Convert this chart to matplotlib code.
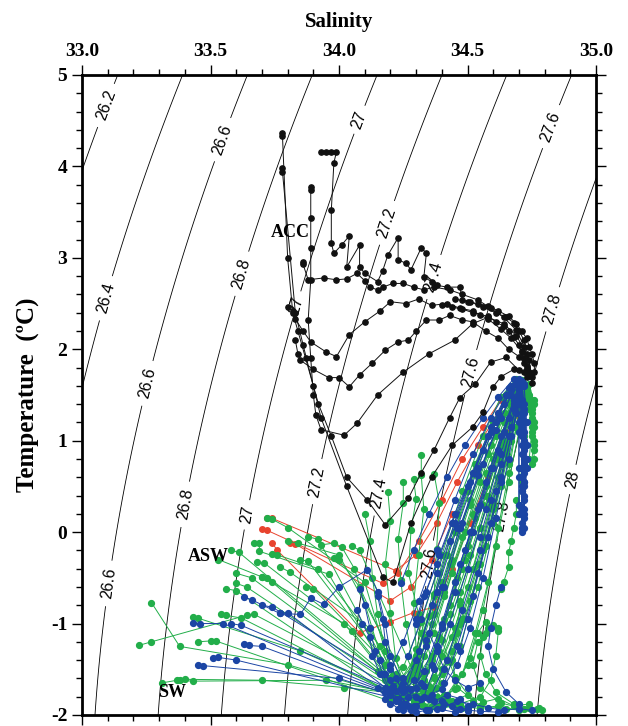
import numpy as np
import matplotlib
matplotlib.use("Agg")
import matplotlib.pyplot as plt
from matplotlib.ticker import MultipleLocator, FormatStrFormatter

plt.rcParams["axes.unicode_minus"] = False

# ---- data (salinity, temperature) ----
black_profiles = [
    [(33.78, 4.37), (33.78, 4.33), (33.80, 3.00), (33.82, 2.40), (33.84, 2.20), (33.87, 1.90), (33.92, 1.40),
     (33.97, 1.05), (34.03, 0.60), (34.11, 0.35), (34.18, 0.08), (34.27, 0.37), (34.32, 0.65), (34.37, 0.90),
     (34.43, 1.25), (34.47, 1.47), (34.53, 1.62), (34.59, 1.86), (34.65, 1.91), (34.70, 1.77), (34.73, 1.70)],
    [(33.78, 3.98), (33.78, 3.94), (33.83, 2.40), (33.86, 2.05), (33.90, 1.60), (33.93, 1.25), (34.03, 0.50),
     (34.17, -0.49), (34.21, -0.55), (34.28, 0.10), (34.36, 0.60), (34.44, 0.95), (34.52, 1.15), (34.56, 1.31),
     (34.60, 1.59), (34.63, 1.70), (34.68, 1.78), (34.72, 1.75)],
    [(33.93, 4.16), (33.95, 4.16), (33.97, 4.16), (33.99, 4.16), (33.98, 4.04), (33.97, 3.52), (33.97, 3.16),
     (33.98, 3.05), (34.01, 3.14), (34.04, 3.24), (34.03, 2.90), (34.08, 3.14), (34.08, 2.90), (34.10, 2.83),
     (34.15, 2.74), (34.17, 2.86), (34.19, 3.03), (34.23, 3.22), (34.23, 2.98), (34.26, 2.94), (34.28, 2.87),
     (34.32, 3.11), (34.34, 3.05), (34.33, 2.79), (34.36, 2.74), (34.38, 2.70), (34.42, 2.68), (34.47, 2.68),
     (34.48, 2.54), (34.51, 2.52), (34.56, 2.46), (34.61, 2.40), (34.65, 2.35), (34.68, 2.29), (34.70, 2.20),
     (34.72, 2.10), (34.74, 1.88), (34.75, 1.63)],
    [(33.89, 3.78), (33.89, 3.74), (33.89, 3.44), (33.89, 3.11), (33.89, 2.76), (33.88, 2.32), (33.89, 1.90),
     (33.90, 1.50), (33.91, 1.28), (33.93, 1.12), (34.02, 1.06), (34.07, 1.19), (34.15, 1.50), (34.25, 1.75),
     (34.35, 1.95), (34.45, 2.10), (34.52, 2.28), (34.58, 2.35), (34.64, 2.28), (34.69, 2.15), (34.73, 1.95),
     (34.75, 1.70)],
    [(33.86, 2.95), (33.86, 2.93), (33.88, 2.76), (33.94, 2.78), (33.99, 2.76), (34.03, 2.77), (34.07, 2.83),
     (34.10, 2.75), (34.12, 2.68), (34.15, 2.65), (34.17, 2.68), (34.21, 2.72), (34.25, 2.72), (34.29, 2.68),
     (34.33, 2.65), (34.37, 2.68), (34.43, 2.65), (34.48, 2.60), (34.54, 2.54), (34.59, 2.45), (34.64, 2.35),
     (34.69, 2.21), (34.72, 2.03), (34.73, 1.77)],
    [(33.80, 2.46), (33.82, 2.42), (33.83, 2.33), (33.86, 2.20), (33.89, 2.08), (33.95, 1.97), (33.99, 1.92),
     (34.04, 2.16), (34.10, 2.30), (34.16, 2.42), (34.20, 2.52), (34.26, 2.50), (34.31, 2.55), (34.36, 2.48),
     (34.42, 2.50), (34.47, 2.45), (34.52, 2.42), (34.58, 2.33), (34.63, 2.22), (34.67, 2.12), (34.71, 1.98),
     (34.73, 1.80)],
    [(33.83, 2.10), (33.84, 1.95), (33.85, 1.88), (33.90, 1.78), (33.96, 1.69), (34.00, 1.69), (34.04, 1.59),
     (34.08, 1.72), (34.13, 1.85), (34.18, 1.99), (34.23, 2.08), (34.27, 2.10), (34.30, 2.20), (34.34, 2.32),
     (34.39, 2.32), (34.43, 2.37), (34.48, 2.32), (34.52, 2.30), (34.57, 2.20), (34.62, 2.12), (34.66, 2.00),
     (34.70, 1.92), (34.72, 1.85)],
    [(34.40, 2.48), (34.44, 2.46), (34.48, 2.44), (34.52, 2.40), (34.55, 2.38), (34.58, 2.36), (34.61, 2.30),
     (34.64, 2.25), (34.66, 2.20), (34.68, 2.13), (34.70, 2.05), (34.71, 1.97), (34.72, 1.90), (34.73, 1.82),
     (34.74, 1.75)],
    [(34.45, 2.55), (34.50, 2.52), (34.54, 2.50), (34.58, 2.47), (34.62, 2.42), (34.66, 2.36), (34.69, 2.28),
     (34.71, 2.20), (34.73, 2.12), (34.74, 2.03), (34.75, 1.95), (34.76, 1.85), (34.76, 1.75)],
]

red_profiles = [
    [(33.70, 0.03), (33.72, 0.02), (34.17, -0.56), (34.23, -0.45), (34.31, -0.10), (34.40, 0.35), (34.48, 0.80),
     (34.56, 1.15), (34.63, 1.45), (34.69, 1.62)],
    [(33.72, 0.15), (33.74, 0.15), (34.22, -0.42), (34.30, -0.25), (34.38, 0.10), (34.46, 0.55), (34.54, 0.95),
     (34.62, 1.30), (34.70, 1.26)],
    [(33.74, -0.12), (33.76, -0.20), (34.08, -1.10), (34.20, -0.98), (34.29, -0.88), (34.37, -0.82),
     (34.44, -0.40), (34.51, 0.10), (34.58, 0.60), (34.65, 1.10)],
    [(33.81, -0.12), (33.83, -0.13), (34.20, -0.75), (34.28, -0.60), (34.36, -0.30), (34.44, 0.20)],
]

green_profiles = [
    [(33.31, -1.65), (33.37, -1.62), (33.40, -1.61), (33.70, -1.62), (34.02, -1.70), (34.21, -1.76), (34.27, -1.60),
     (34.33, -1.15), (34.40, -0.55), (34.47, 0.05), (34.54, 0.60), (34.61, 1.10), (34.67, 1.50), (34.70, 1.62),
     (34.74, 1.45), (34.75, 1.10), (34.74, 0.80)],
    [(33.22, -1.24), (33.27, -1.20), (33.64, -0.91), (33.67, -0.90), (34.19, -1.66), (34.25, -1.72), (34.31, -1.45),
     (34.37, -0.90), (34.44, -0.30), (34.51, 0.30), (34.58, 0.85), (34.64, 1.30), (34.69, 1.58), (34.71, 1.20),
     (34.71, 0.70), (34.70, 0.30)],
    [(33.27, -0.77), (33.38, -1.25), (33.80, -1.45), (34.23, -1.80), (34.30, -1.84), (34.37, -1.60), (34.44, -1.15),
     (34.50, -0.60), (34.56, -0.05), (34.62, 0.60), (34.67, 1.20), (34.70, 1.60), (34.74, 1.35), (34.76, 0.95)],
    [(33.43, -0.93), (33.45, -0.94), (33.85, -1.30), (34.25, -1.80), (34.33, -1.76), (34.40, -1.35), (34.47, -0.75),
     (34.55, 0.05), (34.62, 0.80), (34.68, 1.40), (34.72, 1.62), (34.75, 1.25)],
    [(33.53, -0.30), (33.70, -0.49), (33.72, -0.50), (34.24, -1.74), (34.32, -1.86), (34.40, -1.55), (34.48, -0.95),
     (34.56, -0.20), (34.63, 0.55), (34.68, 1.15), (34.71, 1.50), (34.72, 1.05), (34.71, 0.55)],
    [(33.45, -1.20), (33.50, -1.19), (33.52, -1.19), (34.20, -1.85), (34.38, -1.92), (34.47, -1.88), (34.55, -1.80),
     (34.59, -1.62), (34.61, -1.35), (34.62, -1.08)],
    [(33.54, -0.90), (33.56, -0.91), (33.62, -0.94), (34.22, -1.79), (34.26, -1.62), (34.32, -1.10), (34.39, -0.45),
     (34.46, 0.20), (34.53, 0.75), (34.60, 1.20), (34.66, 1.52), (34.70, 1.66), (34.74, 1.50), (34.76, 1.15),
     (34.75, 0.75)],
    [(33.67, -0.12), (33.69, -0.12), (33.69, -0.21), (33.96, -0.46), (34.20, -1.60), (34.28, -1.78), (34.34, -1.52),
     (34.41, -0.95), (34.49, -0.30), (34.57, 0.40), (34.64, 1.00), (34.69, 1.48)],
    [(33.68, -0.33), (33.71, -0.34), (34.05, -1.08), (34.23, -1.70), (34.30, -1.50), (34.36, -1.00), (34.43, -0.35),
     (34.51, 0.35), (34.59, 0.95), (34.66, 1.42), (34.71, 1.63), (34.75, 1.35), (34.76, 0.90)],
    [(33.70, -0.49), (33.74, -0.55), (34.02, -1.00), (34.26, -1.83), (34.36, -1.90), (34.45, -1.72), (34.51, -1.38),
     (34.54, -1.10), (34.57, -0.98)],
    [(33.72, 0.15), (33.74, 0.14), (33.80, 0.05), (34.10, -0.55), (34.22, -1.68), (34.29, -1.45), (34.35, -0.92),
     (34.42, -0.25), (34.50, 0.45), (34.58, 1.05), (34.65, 1.50), (34.71, 1.45), (34.72, 1.00)],
    [(33.74, -0.24), (33.76, -0.25), (33.92, -0.40), (34.16, -1.25), (34.21, -1.56), (34.27, -1.80), (34.33, -1.62),
     (34.39, -1.15), (34.46, -0.50), (34.53, 0.15), (34.61, 0.85), (34.67, 1.38)],
    [(33.77, -0.38), (33.81, -0.44), (34.12, -1.05), (34.23, -1.66), (34.30, -1.35), (34.37, -0.70), (34.45, 0.00),
     (34.53, 0.65), (34.61, 1.20), (34.67, 1.60), (34.73, 1.52), (34.75, 1.15), (34.76, 0.80)],
    [(33.93, -0.14), (33.98, -0.12), (34.01, -0.16), (34.06, -0.40), (34.20, -1.72), (34.29, -1.86), (34.37, -1.58),
     (34.45, -1.05), (34.52, -0.40), (34.59, 0.30), (34.65, 0.95), (34.70, 1.55)],
    [(33.60, -0.56), (33.64, -0.60), (34.18, -1.62), (34.25, -1.48), (34.32, -0.98), (34.40, -0.25), (34.48, 0.45),
     (34.56, 1.05), (34.63, 1.48), (34.69, 1.68)],
    [(33.38, -1.62), (33.43, -1.63), (33.95, -1.62), (34.28, -1.80), (34.36, -1.72), (34.43, -1.42), (34.49, -0.95),
     (34.55, -0.35), (34.60, 0.25), (34.65, 0.85), (34.69, 1.35), (34.72, 1.60), (34.75, 1.40), (34.75, 1.05)],
    [(34.32, 0.84), (34.32, 0.62), (34.33, 0.25), (34.31, -0.25), (34.29, -0.78), (34.30, -1.28), (34.35, -1.68),
     (34.42, -1.85)],
    [(34.25, 0.55), (34.25, 0.32), (34.23, -0.08), (34.24, -0.52), (34.26, -1.00), (34.29, -1.48), (34.33, -1.76)],
    [(34.19, 0.44), (34.20, 0.12), (34.18, -0.35), (34.20, -0.88), (34.22, -1.38), (34.26, -1.74)],
    [(34.37, 0.64), (34.39, 0.32), (34.38, -0.18), (34.37, -0.68), (34.40, -1.18), (34.45, -1.58), (34.52, -1.85)],
    [(34.29, 0.58), (34.30, 0.36), (34.28, 0.02), (34.27, -0.45), (34.31, -0.90), (34.36, -1.40), (34.41, -1.78)],
    [(34.62, -1.05), (34.60, -1.02), (34.58, -1.05), (34.56, -1.15), (34.55, -1.35), (34.57, -1.55), (34.61, -1.75),
     (34.68, -1.88), (34.74, -1.92), (34.79, -1.95)],
    [(34.57, -1.10), (34.54, -1.20), (34.52, -1.45), (34.55, -1.70), (34.63, -1.87), (34.72, -1.93), (34.77, -1.94)],
    [(34.69, 0.35), (34.69, 0.20), (34.68, 0.05), (34.67, -0.10), (34.66, -0.22), (34.66, -0.38), (34.64, -0.55),
     (34.63, -0.62)],
    [(33.98, -0.28), (34.00, -0.30), (34.08, -0.60), (34.24, -1.60), (34.31, -1.70), (34.39, -1.30), (34.47, -0.65),
     (34.55, 0.05), (34.63, 0.75), (34.69, 1.30), (34.72, 1.62), (34.76, 1.45), (34.76, 1.20)],
    [(33.60, -0.45), (33.66, -0.50), (34.15, -1.52), (34.33, -1.90), (34.42, -1.78), (34.50, -1.45), (34.56, -0.85),
     (34.61, -0.15), (34.66, 0.55), (34.70, 1.10), (34.72, 1.45)],
    [(34.45, -0.55), (34.47, -0.80), (34.46, -1.10), (34.44, -1.40), (34.46, -1.70), (34.55, -1.90), (34.65, -1.93)],
    [(34.10, 0.20), (34.12, -0.10), (34.13, -0.50), (34.15, -0.90), (34.18, -1.30), (34.22, -1.65)],
    [(33.80, -0.10), (33.84, -0.12), (34.00, -0.25), (34.30, -1.82), (34.40, -1.65), (34.47, -1.25), (34.54, -0.60),
     (34.60, 0.10), (34.66, 0.75), (34.70, 1.30), (34.73, 1.55)],
    [(34.35, -1.95), (34.45, -1.90), (34.55, -1.93), (34.62, -1.90), (34.70, -1.95), (34.78, -1.92)],
    [(33.56, -0.62), (33.60, -0.64), (34.21, -1.80), (34.27, -1.70), (34.33, -1.35), (34.41, -0.70), (34.49, 0.00),
     (34.57, 0.65), (34.64, 1.20), (34.69, 1.55)],
    [(33.85, -0.30), (33.88, -0.32), (34.27, -1.75), (34.33, -1.55), (34.40, -1.05), (34.48, -0.40), (34.56, 0.30),
     (34.63, 0.95), (34.68, 1.40), (34.71, 1.64)],
    [(34.05, -0.15), (34.08, -0.20), (34.30, -1.60), (34.36, -1.35), (34.43, -0.80), (34.50, -0.15), (34.57, 0.50),
     (34.64, 1.10), (34.69, 1.50)],
    [(34.35, -1.75), (34.40, -1.50), (34.47, -1.00), (34.54, -0.35), (34.60, 0.30), (34.65, 0.90), (34.69, 1.35),
     (34.73, 1.60), (34.75, 1.30), (34.76, 1.00)],
    [(34.42, -1.80), (34.48, -1.55), (34.53, -1.10), (34.58, -0.55), (34.62, 0.05), (34.66, 0.65), (34.69, 1.15),
     (34.72, 1.50)],
    [(34.28, -1.55), (34.34, -1.20), (34.41, -0.65), (34.48, -0.05), (34.55, 0.55), (34.61, 1.05), (34.67, 1.45),
     (34.71, 1.66)],
    [(33.88, -0.05), (33.92, -0.08), (34.18, -1.45), (34.24, -1.78), (34.31, -1.55), (34.37, -1.10), (34.44, -0.45),
     (34.52, 0.20), (34.60, 0.80), (34.66, 1.30), (34.70, 1.60)],
    [(34.32, -1.88), (34.38, -1.70), (34.44, -1.30), (34.51, -0.75), (34.57, -0.15), (34.63, 0.50), (34.67, 1.00),
     (34.70, 1.40), (34.74, 1.62), (34.76, 1.40)],
    [(34.28, -1.60), (34.32, -1.72), (34.38, -1.80), (34.44, -1.85), (34.50, -1.78), (34.56, -1.86), (34.62, -1.82),
     (34.68, -1.90), (34.74, -1.88)],
    [(33.58, -0.20), (33.61, -0.22), (34.24, -1.70), (34.30, -1.78), (34.36, -1.45), (34.43, -0.90), (34.51, -0.25),
     (34.58, 0.40), (34.65, 1.00), (34.70, 1.45)],
    [(33.87, -0.60), (33.90, -0.62), (34.22, -1.55), (34.30, -1.88), (34.39, -1.90), (34.48, -1.92)],
]

blue_profiles = [
    [(33.45, -1.45), (33.47, -1.46), (34.00, -1.60), (34.20, -1.78), (34.26, -1.72), (34.31, -1.30), (34.38, -0.65),
     (34.46, 0.05), (34.54, 0.70), (34.61, 1.20), (34.67, 1.55), (34.70, 1.66), (34.71, 1.30), (34.71, 0.95),
     (34.71, 0.60), (34.71, 0.25), (34.71, 0.00)],
    [(33.51, -1.38), (33.53, -1.37), (33.60, -1.40), (34.22, -1.82), (34.30, -1.90), (34.36, -1.78), (34.42, -1.40),
     (34.48, -0.85), (34.55, -0.20), (34.61, 0.45), (34.66, 1.05), (34.70, 1.50), (34.72, 1.20), (34.72, 0.80),
     (34.72, 0.40), (34.71, 0.05)],
    [(33.63, -1.22), (33.65, -1.24), (33.70, -1.25), (34.18, -1.75), (34.24, -1.88), (34.30, -1.70), (34.34, -1.25),
     (34.41, -0.60), (34.48, 0.10), (34.56, 0.75), (34.63, 1.25), (34.69, 1.62), (34.70, 1.20), (34.70, 0.70),
     (34.70, 0.30)],
    [(33.58, -1.00), (33.62, -1.02), (34.22, -1.74), (34.28, -1.92), (34.34, -1.95), (34.40, -1.85), (34.44, -1.90),
     (34.50, -1.96)],
    [(33.43, -0.99), (33.46, -1.00), (33.55, -1.00), (34.15, -1.70), (34.20, -1.88), (34.27, -1.80), (34.33, -1.52),
     (34.40, -1.00), (34.47, -0.35), (34.55, 0.30), (34.62, 0.90), (34.68, 1.40), (34.71, 1.65), (34.72, 1.40),
     (34.72, 1.00), (34.72, 0.55), (34.72, 0.15)],
    [(33.63, -0.71), (33.66, -0.74), (33.77, -0.89), (33.85, -0.90), (33.89, -0.72), (33.94, -0.79), (34.00, -0.60),
     (34.11, -0.41), (34.15, -0.65), (34.18, -1.00), (34.20, -1.35), (34.25, -1.65), (34.30, -1.40), (34.36, -0.80),
     (34.43, -0.10), (34.51, 0.55), (34.59, 1.10), (34.66, 1.50), (34.70, 1.60)],
    [(34.08, -0.62), (34.10, -0.80), (34.12, -1.05), (34.14, -1.30), (34.17, -1.55), (34.20, -1.75), (34.27, -1.90),
     (34.35, -1.95)],
    [(34.15, -0.70), (34.17, -0.95), (34.18, -1.20), (34.20, -1.45), (34.24, -1.70), (34.32, -1.82), (34.40, -1.72),
     (34.46, -1.45), (34.51, -1.05), (34.56, -0.50), (34.61, 0.15), (34.66, 0.80), (34.69, 1.30), (34.71, 1.62),
     (34.72, 1.20), (34.73, 0.70), (34.72, 0.20)],
    [(34.24, -0.56), (34.29, -0.20), (34.35, 0.20), (34.42, 0.60), (34.49, 0.95), (34.56, 1.25), (34.62, 1.48),
     (34.68, 1.68), (34.71, 1.45), (34.71, 1.10), (34.72, 0.75)],
    [(34.30, -1.00), (34.34, -0.65), (34.39, -0.25), (34.45, 0.20), (34.52, 0.65), (34.58, 1.05), (34.64, 1.40),
     (34.69, 1.65), (34.72, 1.35), (34.72, 0.90), (34.71, 0.45), (34.71, 0.10)],
    [(34.36, -1.45), (34.40, -1.05), (34.45, -0.55), (34.51, 0.00), (34.57, 0.55), (34.63, 1.05), (34.68, 1.45),
     (34.70, 1.62), (34.71, 1.25), (34.71, 0.85), (34.71, 0.45)],
    [(34.47, -1.30), (34.50, -0.95), (34.54, -0.45), (34.59, 0.10), (34.63, 0.60), (34.67, 1.05), (34.70, 1.45),
     (34.70, 1.62), (34.70, 1.10), (34.70, 0.60), (34.70, 0.20)],
    [(34.40, -1.92), (34.46, -1.85), (34.52, -1.88), (34.58, -1.92), (34.64, -1.95), (34.70, -1.93), (34.75, -1.95)],
    [(34.22, -1.60), (34.25, -1.75), (34.30, -1.80), (34.37, -1.85), (34.42, -1.78), (34.47, -1.82), (34.50, -1.90)],
    [(34.07, -0.85), (34.09, -1.00), (34.12, -1.15), (34.13, -1.35), (34.16, -1.55), (34.19, -1.72), (34.22, -1.85),
     (34.28, -1.95)],
    [(34.63, -0.60), (34.61, -0.80), (34.59, -1.05), (34.58, -1.25), (34.60, -1.50), (34.65, -1.75), (34.70, -1.88)],
    [(33.77, -0.89), (33.80, -0.88), (34.18, -1.70), (34.23, -1.83), (34.29, -1.62), (34.34, -1.18), (34.40, -0.60),
     (34.47, 0.05), (34.54, 0.62), (34.61, 1.12), (34.67, 1.50), (34.71, 1.63), (34.72, 1.30), (34.73, 0.95),
     (34.72, 0.55), (34.72, 0.05)],
    [(34.30, -0.95), (34.33, -0.70), (34.38, -0.35), (34.44, 0.10), (34.50, 0.50), (34.56, 0.90), (34.62, 1.30),
     (34.67, 1.60)],
    [(34.20, -1.50), (34.25, -1.20), (34.31, -0.75), (34.38, -0.20), (34.45, 0.35), (34.52, 0.85), (34.59, 1.25),
     (34.66, 1.58), (34.70, 1.68)],
    [(34.55, -0.05), (34.59, 0.35), (34.63, 0.75), (34.67, 1.15), (34.70, 1.50), (34.72, 1.60), (34.72, 1.00),
     (34.72, 0.50), (34.71, 0.05)],
    [(34.25, -1.95), (34.30, -1.97), (34.38, -1.93), (34.45, -1.97), (34.50, -1.92)],
    [(34.33, -1.80), (34.37, -1.50), (34.43, -1.00), (34.50, -0.40), (34.57, 0.25), (34.63, 0.85), (34.68, 1.35),
     (34.71, 1.60), (34.71, 1.15), (34.71, 0.70), (34.71, 0.25)],
    [(34.27, -1.35), (34.32, -0.95), (34.38, -0.45), (34.45, 0.10), (34.52, 0.65), (34.59, 1.15), (34.65, 1.50),
     (34.70, 1.64)],
    [(33.70, -0.80), (33.74, -0.82), (34.20, -1.62), (34.26, -1.88), (34.33, -1.68), (34.38, -1.25), (34.45, -0.65),
     (34.52, 0.00), (34.60, 0.70), (34.66, 1.25), (34.70, 1.58), (34.71, 1.05), (34.71, 0.50)],
    [(34.41, -1.65), (34.46, -1.25), (34.52, -0.70), (34.58, -0.05), (34.63, 0.55), (34.67, 1.05), (34.70, 1.40),
     (34.72, 1.62), (34.73, 1.20), (34.73, 0.80), (34.72, 0.35)],
    [(34.18, -1.82), (34.23, -1.93), (34.29, -1.90), (34.35, -1.82), (34.41, -1.88), (34.47, -1.94), (34.55, -1.96),
     (34.62, -1.97)],
    [(34.16, -1.40), (34.18, -1.55), (34.21, -1.68), (34.25, -1.60), (34.28, -1.72), (34.32, -1.65)],
    [(34.35, -1.10), (34.38, -1.30), (34.41, -1.50), (34.45, -1.62), (34.50, -1.70), (34.55, -1.65)],
    [(34.49, -0.20), (34.54, 0.25), (34.59, 0.70), (34.64, 1.10), (34.68, 1.45), (34.71, 1.62), (34.72, 1.10),
     (34.72, 0.65), (34.72, 0.25)],
]

# isopycnal levels and where their labels sit
sigma_levels = [26.2, 26.4, 26.6, 26.8, 27.0, 27.2, 27.4, 27.6, 27.8, 28.0]
label_spots = [(33.09, 4.67), (33.09, 2.56),
               (33.55, 4.29), (33.25, 1.63), (33.10, -0.56),
               (33.63, 2.82), (33.41, 0.30),
               (34.08, 4.51), (33.83, 2.48), (33.64, 0.19),
               (34.19, 3.38), (33.92, 0.55),
               (34.37, 2.79), (34.15, 0.43),
               (34.83, 4.43), (34.51, 1.75), (34.35, -0.34),
               (34.84, 2.43), (34.65, 0.17),
               (34.92, 0.57)]

text_marks = [("ACC", 33.81, 3.28), ("ASW", 33.49, -0.27), ("SW", 33.35, -1.75)]


def sigma0(s, t):
    # UNESCO 1980 equation of state at the surface
    rho_w = (999.842594 + 6.793952e-2 * t - 9.095290e-3 * t ** 2 + 1.001685e-4 * t ** 3
             - 1.120083e-6 * t ** 4 + 6.536332e-9 * t ** 5)
    a = 8.24493e-1 - 4.0899e-3 * t + 7.6438e-5 * t ** 2 - 8.2467e-7 * t ** 3 + 5.3875e-9 * t ** 4
    b = -5.72466e-3 + 1.0227e-4 * t - 1.6546e-6 * t ** 2
    c = 4.8314e-4
    return rho_w + a * s + b * s ** 1.5 + c * s ** 2 - 1000.0


serif = "Liberation Serif"

fig = plt.figure(figsize=(6.28, 7.26), dpi=100)
ax = fig.add_axes([0.1306, 0.0152, 0.8185, 0.8815])

ss, tt = np.meshgrid(np.linspace(32.9, 35.1, 300), np.linspace(-2.2, 5.2, 300))
cs = ax.contour(ss, tt, sigma0(ss, tt), levels=sigma_levels, colors="black", linewidths=0.6, zorder=1)
ax.clabel(cs, cs.levels, manual=label_spots, fmt=lambda v: f"{v:g}", inline=True, inline_spacing=4,
          fontsize=11.5, colors="black")
for t in cs.labelTexts:
    t.set_fontfamily("Liberation Sans")


def draw(profiles, color, z, ms):
    for prof in profiles:
        s = [p[0] for p in prof]
        t = [p[1] for p in prof]
        ax.plot(s, t, "-o", color=color, lw=0.7, ms=ms, mec=color, zorder=z)


draw(red_profiles, "#e8432e", 2, 4.0)
draw(green_profiles, "#22ae4a", 3, 4.2)
draw(blue_profiles, "#1b45a4", 4, 4.2)
draw(black_profiles, "#111111", 5, 3.8)

for txt, s, t in text_marks:
    ax.text(s, t, txt, fontfamily=serif, fontweight="bold", fontsize=13, ha="center", va="center", zorder=6)

ax.set_xlim(33.0, 35.0)
ax.set_ylim(-2.0, 5.0)
ax.xaxis.set_major_locator(MultipleLocator(0.5))
ax.xaxis.set_minor_locator(MultipleLocator(0.1))
ax.yaxis.set_major_locator(MultipleLocator(1))
ax.yaxis.set_minor_locator(MultipleLocator(0.2))
ax.xaxis.set_major_formatter(FormatStrFormatter("%.1f"))
ax.tick_params(which="both", direction="out", top=True, bottom=True, left=True, right=True,
               labeltop=True, labelbottom=False, width=1.0)
ax.tick_params(which="major", length=7)
ax.tick_params(which="minor", length=4)
for lab in ax.get_xticklabels() + ax.get_yticklabels():
    lab.set_fontfamily(serif)
    lab.set_fontweight("bold")
    lab.set_fontsize(14)
for sp in ax.spines.values():
    sp.set_linewidth(2.0)

ax.xaxis.set_label_position("top")
ax.set_xlabel("Salinity", fontfamily=serif, fontweight="bold", fontsize=15, labelpad=12)
ax.set_ylabel("Temperature  (\u00baC)", fontfamily=serif, fontweight="bold", fontsize=18, labelpad=8)

fig.savefig("out.png", dpi=100)
